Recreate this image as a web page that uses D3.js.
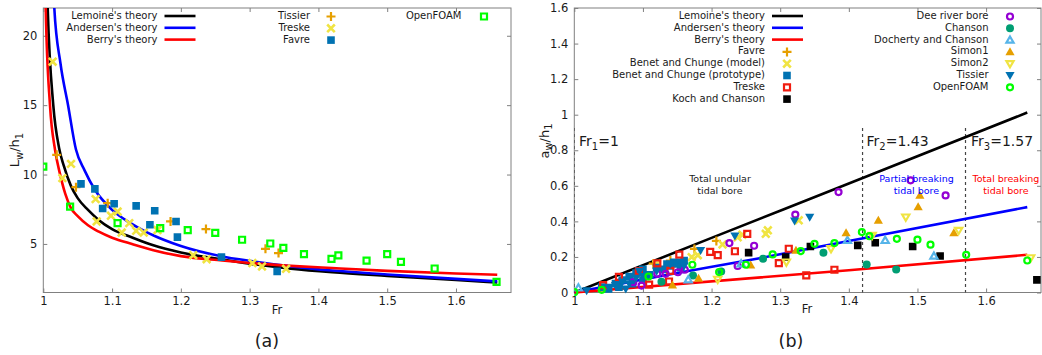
<!DOCTYPE html>
<html><head><meta charset="utf-8">
<script src="https://cdn.jsdelivr.net/npm/d3@7"></script>
<style>body{margin:0;background:#fff}svg{display:block}text{font-family:"DejaVu Sans",sans-serif}</style>
</head><body><svg id="c" width="1042" height="355"></svg>
<script>
// ---------- tick labels ----------
const frTicks = [1, 1.1, 1.2, 1.3, 1.4, 1.5, 1.6];
const lwTicks = [5, 10, 15, 20];
const awTicks = [0, 0.2, 0.4, 0.6, 0.8, 1, 1.2, 1.4, 1.6];

// ---------- panel (a): Lw/h1 vs Fr ----------
const aLemoine = [[1.0058,23],[1.0064,22],[1.0145,15],[1.023,11.9],[1.03,10.6],[1.04,9.2],[1.05,8.3],[1.065,7.45],[1.08,6.75],[1.1,6.07],[1.13,5.45],[1.16,4.9],[1.2,4.38],[1.26,3.88],[1.3,3.58],[1.36,3.22],[1.42,2.96],[1.5,2.7],[1.6,2.4],[1.66,2.22]];
const aAndersen = [[1.0155,23],[1.016,22],[1.025,18],[1.036,15],[1.0475,11.8],[1.06,10.3],[1.075,8.9],[1.1,7.45],[1.125,6.55],[1.15,5.85],[1.175,5.3],[1.2,4.85],[1.26,4.1],[1.3,3.78],[1.36,3.38],[1.42,3.08],[1.5,2.8],[1.6,2.48],[1.66,2.3]];
const aBerry = [[1.0032,23],[1.0035,22],[1.0097,15],[1.017,11.8],[1.024,10.1],[1.032,8.6],[1.04,7.6],[1.05,7.0],[1.065,6.35],[1.08,5.9],[1.1,5.45],[1.13,4.98],[1.16,4.55],[1.2,4.12],[1.26,3.8],[1.3,3.62],[1.36,3.42],[1.42,3.26],[1.5,3.06],[1.6,2.87],[1.66,2.78]];
const aTissier = [[1.0195,11.42],[1.0475,9.09],[1.0936,7.94],[1.185,6.62],[1.2365,6.07],[1.323,4.65],[1.342,4.34]];
const aTreske = [[1.0136,18.13],[1.0403,10.77],[1.0277,9.74],[1.0761,8.23],[1.0776,6.62],[1.0984,7.03],[1.108,7.33],[1.114,5.82],[1.125,6.5],[1.135,5.94],[1.146,5.82],[1.166,6.0],[1.218,4.19],[1.2375,3.9],[1.304,3.62],[1.318,3.38],[1.353,3.21]];
const aFavre = [[1.0548,9.33],[1.075,8.97],[1.0863,7.55],[1.103,7.89],[1.135,7.74],[1.155,6.38],[1.162,7.39],[1.193,6.62],[1.195,5.49],[1.259,4.05],[1.34,3.02]];
const aOpenFOAM = [[1.0,10.57],[1.039,7.69],[1.108,6.5],[1.17,6.14],[1.21,6.0],[1.25,5.8],[1.289,5.3],[1.33,5.03],[1.349,4.72],[1.379,4.27],[1.419,3.93],[1.429,4.17],[1.47,3.79],[1.5,4.27],[1.52,3.71],[1.569,3.23],[1.659,2.27]];

// ---------- panel (b): aw/h1 vs Fr ----------
const bLemoine = [[1,0],[1.2,0.307],[1.4,0.613],[1.66,1.012]];
const bAndersen = [[1,0],[1.14,0.103],[1.27,0.193],[1.4,0.29],[1.66,0.48]];
const bBerry = [[1,0],[1.4,0.125],[1.66,0.212]];
const bFavre = [[1.115,0.162],[1.14,0.18],[1.175,0.245],[1.207,0.29]];
const bBenetModel = [[1.12,0.16],[1.171,0.199],[1.18,0.21],[1.216,0.27],[1.238,0.31],[1.245,0.325],[1.279,0.33],[1.282,0.35],[1.327,0.406]];
const bBenetProto = [[1.04,0.03],[1.05,0.02],[1.06,0.05],[1.065,0.03],[1.07,0.07],[1.08,0.09],[1.085,0.05],[1.09,0.11],[1.1,0.07],[1.1,0.13],[1.11,0.1],[1.12,0.14],[1.13,0.13],[1.135,0.16],[1.14,0.15],[1.145,0.17],[1.15,0.16],[1.155,0.14],[1.16,0.18]];
const bTreske = [[1.042,0.041],[1.065,0.088],[1.094,0.12],[1.109,0.044],[1.121,0.164],[1.138,0.062],[1.14,0.122],[1.153,0.213],[1.198,0.229],[1.209,0.21],[1.234,0.232],[1.252,0.33],[1.298,0.165],[1.3125,0.246],[1.338,0.096],[1.379,0.128]];
const bKoch = [[1.254,0.224],[1.308,0.199],[1.344,0.259],[1.413,0.265],[1.4385,0.28],[1.493,0.259],[1.533,0.205],[1.674,0.071]];
const bDee = [[1.086,0.058],[1.098,0.039],[1.121,0.105],[1.133,0.105],[1.151,0.114],[1.161,0.128],[1.226,0.278],[1.238,0.149],[1.262,0.263],[1.322,0.438],[1.385,0.565],[1.49,0.631],[1.541,0.546]];
const bChanson = [[1.127,0.06],[1.173,0.095],[1.214,0.118],[1.275,0.19],[1.363,0.224],[1.426,0.158],[1.469,0.13]];
const bDocherty = [[1.006,0.026],[1.166,0.072],[1.243,0.162],[1.398,0.293],[1.453,0.293],[1.524,0.205]];
const bSimon1 = [[1.143,0.042],[1.181,0.079],[1.257,0.154],[1.323,0.237],[1.396,0.336],[1.443,0.406],[1.501,0.481],[1.5035,0.546],[1.553,0.336]];
const bSimon2 = [[1.209,0.074],[1.309,0.171],[1.374,0.246],[1.434,0.321],[1.483,0.424],[1.56,0.349],[1.665,0.195]];
const bTissier = [[1.018,0.011],[1.05,0.03],[1.06,0.04],[1.07,0.06],[1.075,0.02],[1.08,0.05],[1.09,0.08],[1.095,0.12],[1.1,0.09],[1.12,0.12],[1.14,0.16],[1.155,0.17],[1.16,0.15],[1.184,0.237],[1.234,0.318],[1.321,0.402],[1.343,0.424]];
const bOpenFOAM = [[1.0,0.002],[1.04,0.015],[1.108,0.09],[1.172,0.156],[1.211,0.115],[1.25,0.156],[1.289,0.214],[1.33,0.233],[1.35,0.274],[1.379,0.278],[1.419,0.34],[1.43,0.317],[1.47,0.302],[1.5,0.297],[1.519,0.269],[1.571,0.212],[1.66,0.18]];

const regimeFr = [1, 1.42, 1.57];
const regimeLabels = [["Fr","1","=1"],["Fr","2","=1.43"],["Fr","3","=1.57"]];

// ---------- drawing ----------
const svg = d3.select("#c");
svg.append("rect").attr("width",1042).attr("height",355).attr("fill","#fff");
const TOP = 8, BOT = 292.5;
const FRAME = "#808080", TXT = "#1a1a1a";

function marker(g, type, color, x, y) {
  if (type === "circFill") { g.append("circle").attr("cx",x).attr("cy",y).attr("r",4).attr("fill",color); return; }
  if (type === "circOpen") { g.append("circle").attr("cx",x).attr("cy",y).attr("r",3).attr("fill","none").attr("stroke",color).attr("stroke-width",2.2); return; }
  const P = {
    plus: "M-4.5,0H4.5M0,-4.5V4.5",
    times: "M-3.8,-3.8L3.8,3.8M-3.8,3.8L3.8,-3.8",
    sqFill: "M-3.8,-3.8H3.8V3.8H-3.8Z",
    sqOpen: "M-3,-3H3V3H-3Z",
    triUp: "M0,-4.6L4.6,3.4H-4.6Z",
    triDown: "M0,4.6L4.6,-3.4H-4.6Z",
    triUpO: "M0,-3.6L3.6,2.6H-3.6Z",
    triDownO: "M0,3.6L3.6,-2.6H-3.6Z"
  };
  const s = g.append("path").attr("transform", `translate(${x},${y})`).attr("d", P[type]);
  if (["plus","times","sqOpen","triUpO","triDownO"].includes(type)) {
    s.attr("fill","none").attr("stroke",color).attr("stroke-width", type==="times"?2.6:2.2);
  } else s.attr("fill",color);
}

function panel(x0, x1, yDomain, yTicks, yFmt) {
  const x = d3.scaleLinear().domain([1, 1.68]).range([x0, x1]);
  const y = d3.scaleLinear().domain(yDomain).range([BOT, TOP]);
  const g = svg.append("g");
  const fmt = d => String(+d.toFixed(1));
  const ax = [
    [d3.axisBottom(x).tickValues(frTicks).tickFormat(fmt).tickSize(-4).tickPadding(4), `translate(0,${BOT})`],
    [d3.axisTop(x).tickValues(frTicks).tickFormat("").tickSize(-4), `translate(0,${TOP})`],
    [d3.axisLeft(y).tickValues(yTicks).tickFormat(yFmt).tickSize(-4).tickPadding(6), `translate(${x0},0)`],
    [d3.axisRight(y).tickValues(yTicks).tickFormat("").tickSize(-4), `translate(${x1},0)`]
  ];
  ax.forEach(([a, t]) => {
    const ga = g.append("g").attr("transform", t).call(a);
    ga.select(".domain").remove();
    ga.selectAll("line").attr("stroke", FRAME);
    ga.selectAll("text").attr("font-size", 11.5).attr("fill", TXT).attr("font-family","DejaVu Sans");
  });
  g.append("rect").attr("x",x0).attr("y",TOP).attr("width",x1-x0).attr("height",BOT-TOP)
    .attr("fill","none").attr("stroke",FRAME).attr("stroke-width",1);
  const id = "clip" + Math.round(x0);
  svg.append("clipPath").attr("id", id).append("rect").attr("x",x0).attr("y",TOP).attr("width",x1-x0).attr("height",BOT-TOP+4);
  const plot = svg.append("g").attr("clip-path", `url(#${id})`);
  return {x, y, g, plot};
}

function drawLine(p, data, color) {
  const line = d3.line().x(d => p.x(d[0])).y(d => p.y(d[1])).curve(d3.curveMonotoneX);
  p.plot.append("path").datum(data).attr("d", line).attr("fill","none").attr("stroke",color).attr("stroke-width",2.6);
}
function drawPts(p, data, type, color) {
  const gg = p.plot.append("g");
  data.forEach(d => marker(gg, type, color, p.x(d[0]), p.y(d[1])));
}
function legLine(x, y, label, color) {
  svg.append("text").attr("x", x).attr("y", y + 3.5).attr("text-anchor","end").attr("font-size",10).attr("fill",TXT).text(label);
  svg.append("line").attr("x1", x+7).attr("x2", x+38).attr("y1", y+0.5).attr("y2", y+0.5).attr("stroke",color).attr("stroke-width",2.6);
}
function legPt(x, y, mx, label, type, color) {
  svg.append("text").attr("x", x).attr("y", y + 3.5).attr("text-anchor","end").attr("font-size",10).attr("fill",TXT).text(label);
  marker(svg, type, color, mx, y + 1);
}

const C = {black:"#000000", blue:"#0000ff", red:"#ff0000", orange:"#e69f00", yellow:"#f0e442", dblue:"#0072b2",
  green:"#00ff00", purple:"#9400d3", teal:"#009e73", sky:"#56b4e9", tred:"#f01c10"};

// ----- panel a -----
const pa = panel(43.3, 511, [1.5, 22], lwTicks, d => d);
drawLine(pa, aLemoine, C.black);
drawLine(pa, aAndersen, C.blue);
drawLine(pa, aBerry, C.red);
drawPts(pa, aTissier, "plus", C.orange);
drawPts(pa, aTreske, "times", C.yellow);
drawPts(pa, aFavre, "sqFill", C.dblue);
drawPts(pa, aOpenFOAM, "sqOpen", C.green);

legLine(157.5, 15.5, "Lemoine's theory", C.black);
legLine(157.5, 27.3, "Andersen's theory", C.blue);
legLine(157.5, 39.1, "Berry's theory", C.red);
legPt(310, 15.5, 331, "Tissier", "plus", C.orange);
legPt(310, 27.3, 331, "Treske", "times", C.yellow);
legPt(310, 39.1, 331, "Favre", "sqFill", C.dblue);
legPt(461.5, 15.5, 484, "OpenFOAM", "sqOpen", C.green);

// ----- panel b -----
const pb = panel(574.3, 1041, [0, 1.6], awTicks, d => String(+d.toFixed(1)));
regimeFr.forEach(f => {
  pb.plot.append("line").attr("x1", pb.x(f)).attr("x2", pb.x(f)).attr("y1", pb.y(0.925)).attr("y2", BOT)
    .attr("stroke","#444").attr("stroke-width",1.2).attr("stroke-dasharray","3,3");
});
const rlx = [579, 866.5, 971];
regimeLabels.forEach((l, i) => {
  const t = svg.append("text").attr("x", rlx[i]).attr("y", 146).attr("font-size", 14).attr("fill", TXT);
  t.append("tspan").text(l[0]);
  t.append("tspan").attr("font-size", 10).attr("dy", 4).text(l[1]);
  t.append("tspan").attr("dy", -4).text(l[2]);
});
const regText = [["Total undular","tidal bore",720,"#1a1a1a"],["Partial breaking","tidal bore",916.5,"#0000ff"],["Total breaking","tidal bore",1006,"#ff0000"]];
regText.forEach(r => {
  svg.append("text").attr("x", r[2]).attr("y", 182).attr("text-anchor","middle").attr("font-size",9.5).attr("fill",r[3]).text(r[0]);
  svg.append("text").attr("x", r[2]).attr("y", 193.5).attr("text-anchor","middle").attr("font-size",9.5).attr("fill",r[3]).text(r[1]);
});
drawLine(pb, bLemoine, C.black);
drawLine(pb, bAndersen, C.blue);
drawLine(pb, bBerry, C.red);
drawPts(pb, bFavre, "plus", C.orange);
drawPts(pb, bBenetModel, "times", C.yellow);
drawPts(pb, bBenetProto, "sqFill", C.dblue);
drawPts(pb, bTreske, "sqOpen", C.tred);
drawPts(pb, bKoch, "sqFill", C.black);
drawPts(pb, bDee, "circOpen", C.purple);
drawPts(pb, bChanson, "circFill", C.teal);
drawPts(pb, bDocherty, "triUpO", C.sky);
drawPts(pb, bSimon1, "triUp", C.orange);
drawPts(pb, bSimon2, "triDownO", C.yellow);
drawPts(pb, bTissier, "triDown", C.dblue);
drawPts(pb, bOpenFOAM, "circOpen", C.green);

const lx = 765, rows = [15.5, 27.3, 39.1, 50.9, 62.7, 74.5, 86.3, 98.1];
legLine(lx, rows[0], "Lemoine's theory", C.black);
legLine(lx, rows[1], "Andersen's theory", C.blue);
legLine(lx, rows[2], "Berry's theory", C.red);
legPt(lx, rows[3], 787, "Favre", "plus", C.orange);
legPt(lx, rows[4], 787, "Benet and Chunge (model)", "times", C.yellow);
legPt(lx, rows[5], 787, "Benet and Chunge (prototype)", "sqFill", C.dblue);
legPt(lx, rows[6], 787, "Treske", "sqOpen", C.tred);
legPt(lx, rows[7], 787, "Koch and Chanson", "sqFill", C.black);
const rx = 988.5, rmx = 1010;
legPt(rx, rows[0], rmx, "Dee river bore", "circOpen", C.purple);
legPt(rx, rows[1], rmx, "Chanson", "circFill", C.teal);
legPt(rx, rows[2], rmx, "Docherty and Chanson", "triUpO", C.sky);
legPt(rx, rows[3], rmx, "Simon1", "triUp", C.orange);
legPt(rx, rows[4], rmx, "Simon2", "triDownO", C.yellow);
legPt(rx, rows[5], rmx, "Tissier", "triDown", C.dblue);
legPt(rx, rows[6], rmx, "OpenFOAM", "circOpen", C.green);

// ----- axis titles -----
function vLabel(x, y, main, sub1, mid, sub2) {
  const t = svg.append("text").attr("font-size", 13).attr("fill", TXT).attr("text-anchor","middle")
    .attr("transform", `translate(${x},${y}) rotate(-90)`);
  t.append("tspan").text(main);
  t.append("tspan").attr("font-size", 10).attr("dy", 3.5).text(sub1);
  t.append("tspan").attr("dy", -3.5).text(mid);
  t.append("tspan").attr("font-size", 10).attr("dy", 3.5).text(sub2);
}
vLabel(19, 150, "L", "w", "/h", "1");
vLabel(548.5, 141, "a", "w", "/h", "1");
svg.append("text").attr("x", 277).attr("y", 314).attr("text-anchor","middle").attr("font-size",11.5).attr("fill",TXT).text("Fr");
svg.append("text").attr("x", 807).attr("y", 313).attr("text-anchor","middle").attr("font-size",11.5).attr("fill",TXT).text("Fr");
svg.append("text").attr("x", 267).attr("y", 347).attr("text-anchor","middle").attr("font-size",17.5).attr("font-family","DejaVu Serif").attr("fill",TXT).text("(a)");
svg.append("text").attr("x", 791).attr("y", 347).attr("text-anchor","middle").attr("font-size",17.5).attr("font-family","DejaVu Serif").attr("fill",TXT).text("(b)");
</script></body></html>
